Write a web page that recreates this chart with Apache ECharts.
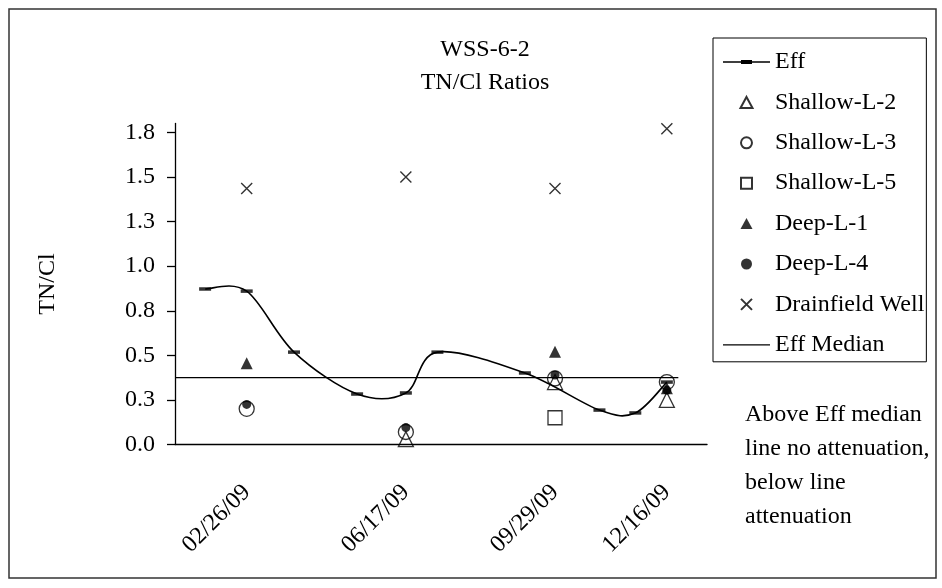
<!DOCTYPE html>
<html><head><meta charset="utf-8">
<script src="https://cdn.jsdelivr.net/npm/echarts@6/dist/echarts.min.js"></script>
<style>html,body{margin:0;padding:0;background:#fff}#chart{width:942px;height:588px}</style>
</head><body><div id="chart"></div>
<script>
// ---- data ----
const effDates = ['2009-01-28','2009-02-26','2009-03-31','2009-05-14','2009-06-17','2009-07-09','2009-09-08','2009-10-30','2009-11-24','2009-12-16'];
const effValues = [0.872, 0.860, 0.518, 0.283, 0.289, 0.518, 0.401, 0.193, 0.177, 0.350];
const sampleDates = ['2009-02-26','2009-06-17','2009-09-29','2009-12-16'];
const shallowL2 = [null, 0.03, 0.35, 0.25];
const shallowL3 = [0.20, 0.07, 0.37, 0.35];
const shallowL5 = [null, null, 0.15, null];
const deepL1 = [0.455, null, 0.52, 0.315];
const deepL4 = [0.225, 0.095, 0.39, 0.305];
const drainfield = [1.435, 1.50, 1.435, 1.77];
const medianDates = ['2009-01-07','2009-12-24'];
const medianValues = [0.375, 0.375];
const xTickLabels = ['02/26/09','06/17/09','09/29/09','12/16/09'];
const yTickValues = [0, 0.25, 0.5, 0.75, 1.0, 1.25, 1.5, 1.75];
const yTickLabels = ['0.0','0.3','0.5','0.8','1.0','1.3','1.5','1.8'];
const xMin = '2009-01-07', xMax = '2010-01-13';

// ---- helpers: dates -> day number (value axis) ----
const DAY = 86400000;
function toDay(s){ const p = s.split('-').map(Number); return Math.round(Date.UTC(p[0], p[1]-1, p[2]) / DAY); }
function labelToDay(l){ const p = l.split('/').map(Number); return Math.round(Date.UTC(2000+p[2], p[0]-1, p[1]) / DAY); }
const xTickDays = xTickLabels.map(labelToDay);
function pts(dates, vals){ return dates.map((d,i)=>[toDay(d), vals[i]]).filter(p=>p[1]!=null); }
const effPts = pts(effDates, effValues);

const FONT = 'Liberation Serif';
const FS = 24;
const open = {color:'rgba(0,0,0,0)', borderColor:'#000', borderWidth:1.3};
const filled = {color:'#000', borderWidth:0};
const TRI = 'path://M6,0L12,11L0,11Z';
const SQR = 'path://M0,0h10v10h-10z';
const CROSS = 'path://M0,0L10,10M10,0L0,10';

// Excel-style smoothed curve (Catmull-Rom Bezier) through the Eff points, positioned by the axes
function effCurve(params, api){
  if (params.dataIndex !== 0) return null;
  const P = effPts.map(p => api.coord(p));
  let d = 'M' + P[0][0] + ',' + P[0][1];
  for (let i = 0; i < P.length - 1; i++){
    const p0 = P[i-1] || P[i], p1 = P[i], p2 = P[i+1], p3 = P[i+2] || P[i+1];
    const c1x = p1[0] + (p2[0]-p0[0])/6, c1y = p1[1] + (p2[1]-p0[1])/6;
    const c2x = p2[0] - (p3[0]-p1[0])/6, c2y = p2[1] - (p3[1]-p1[1])/6;
    d += ' C' + c1x + ',' + c1y + ' ' + c2x + ',' + c2y + ' ' + p2[0] + ',' + p2[1];
  }
  return {type:'path', shape:{pathData:d}, style:{fill:'none', stroke:'#000', lineWidth:1.6}};
}

const chart = echarts.init(document.getElementById('chart'), null, {renderer:'canvas'});
chart.setOption({
  animation:false,
  textStyle:{fontFamily:FONT, color:'#000'},
  grid:{left:175, right:235, top:123.5, bottom:143.5, containLabel:false},
  xAxis:{
    type:'value', min:toDay(xMin), max:toDay(xMax),
    axisLine:{show:true, onZero:false, lineStyle:{color:'#000', width:1.4}},
    axisTick:{show:false},
    splitLine:{show:false},
    axisLabel:{
      customValues:xTickDays, rotate:45, margin:44,
      fontFamily:FONT, fontSize:FS, color:'#000',
      formatter:function(v){ const i = xTickDays.indexOf(Math.round(v)); return i>=0 ? xTickLabels[i] : ''; }
    }
  },
  yAxis:{
    type:'value', min:0, max:1.8,
    name:'TN/Cl', nameLocation:'middle', nameGap:115, nameRotate:90,
    nameTextStyle:{fontFamily:FONT, fontSize:FS, color:'#000'},
    axisLine:{show:true, lineStyle:{color:'#000', width:1.3}},
    axisTick:{show:true, length:8, customValues:yTickValues, lineStyle:{color:'#000', width:1.3}},
    splitLine:{show:false},
    axisLabel:{
      customValues:yTickValues, margin:20, fontFamily:FONT, fontSize:FS, color:'#000',
      formatter:function(v){ const i = Math.round(v/0.25); return yTickLabels[i] || ''; }
    }
  },
  legend:{
    orient:'vertical', left:713, top:38,
    padding:[11,2,4,10], itemGap:14.4, itemWidth:47, itemHeight:11, itemTextGap:7,
    borderColor:'#000', borderWidth:1,
    textStyle:{fontFamily:FONT, fontSize:FS, color:'#000', lineHeight:26},
    data:[
      {name:'Eff', icon:'path://M0,5.2h47v1.4h-47z M18,4h11v3.8h-11z'},
      {name:'Shallow-L-2', icon:TRI},
      {name:'Shallow-L-3', icon:'circle'},
      {name:'Shallow-L-5', icon:SQR},
      {name:'Deep-L-1', icon:TRI},
      {name:'Deep-L-4', icon:'circle'},
      {name:'Drainfield Well', icon:CROSS},
      {name:'Eff Median', icon:'path://M0,0h47v1.2h-47z'}
    ]
  },
  graphic:[
    {type:'rect', z:-1, shape:{x:9, y:9, width:927, height:569}, style:{fill:'none', stroke:'#333', lineWidth:1.5}},
    {type:'text', x:485, y:33, style:{text:'WSS-6-2\nTN/Cl Ratios', fill:'#000', font:FS+'px "'+FONT+'"', align:'center', verticalAlign:'top', lineHeight:33}},
    {type:'text', x:745, y:398, style:{text:'Above Eff median\nline no attenuation,\nbelow line\nattenuation', fill:'#000', font:FS+'px "'+FONT+'"', align:'left', verticalAlign:'top', lineHeight:34}}
  ],
  series:[
    {name:'Eff', type:'custom', data:effPts, renderItem:effCurve, clip:true, itemStyle:{color:'#000'}, z:2, silent:true},
    {name:'Eff', type:'scatter', data:effPts, symbol:'rect', symbolSize:[12,3.5], itemStyle:{color:'#000'}, z:3, emphasis:{disabled:true}},
    {name:'Shallow-L-2', type:'scatter', data:pts(sampleDates, shallowL2), symbol:'triangle', symbolSize:15, itemStyle:open, z:3, emphasis:{disabled:true}},
    {name:'Shallow-L-3', type:'scatter', data:pts(sampleDates, shallowL3), symbol:'circle', symbolSize:15, itemStyle:open, z:3, emphasis:{disabled:true}},
    {name:'Shallow-L-5', type:'scatter', data:pts(sampleDates, shallowL5), symbol:'rect', symbolSize:14, itemStyle:open, z:3, emphasis:{disabled:true}},
    {name:'Deep-L-1', type:'scatter', data:pts(sampleDates, deepL1), symbol:'triangle', symbolSize:12, itemStyle:filled, z:3, emphasis:{disabled:true}},
    {name:'Deep-L-4', type:'scatter', data:pts(sampleDates, deepL4), symbol:'circle', symbolSize:9, itemStyle:filled, z:3, emphasis:{disabled:true}},
    {name:'Drainfield Well', type:'scatter', data:pts(sampleDates, drainfield), symbol:CROSS, symbolSize:11,
     itemStyle:{color:'none', borderColor:'#000', borderWidth:1.4}, z:3, emphasis:{disabled:true}},
    {name:'Eff Median', type:'line', data:pts(medianDates, medianValues), symbol:'none', showSymbol:false,
     itemStyle:{color:'#000'}, lineStyle:{color:'#000', width:1.2}, z:3, emphasis:{disabled:true}}
  ]
});
</script></body></html>
